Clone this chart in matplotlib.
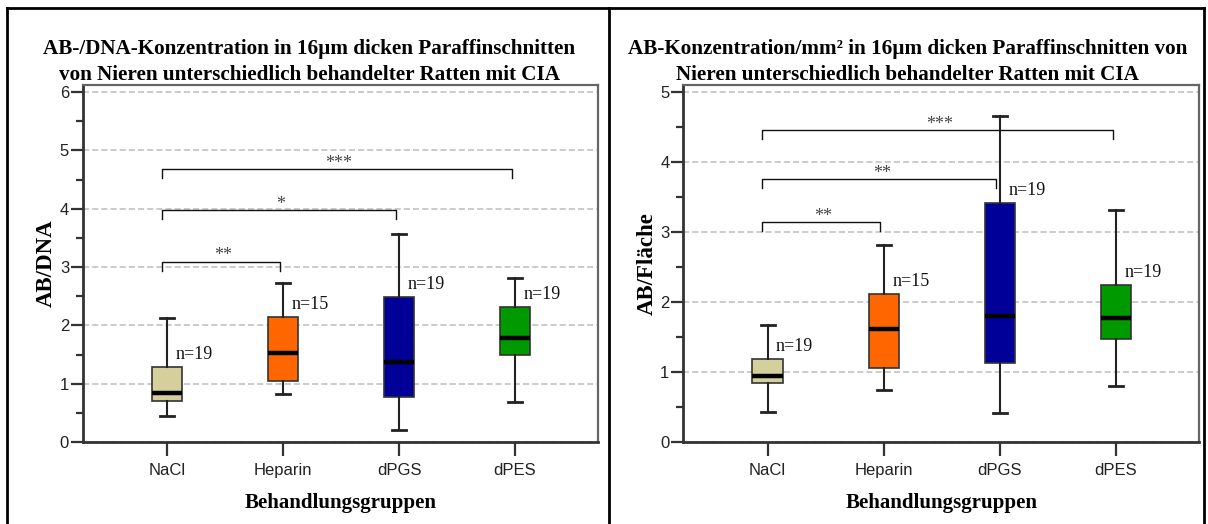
import matplotlib
matplotlib.use("Agg")
import matplotlib.pyplot as plt
from matplotlib.lines import Line2D
from matplotlib.ticker import MultipleLocator

# Behandlungsgruppen
groups = ["NaCl", "Heparin", "dPGS", "dPES"]
n_vals = [19, 15, 19, 19]
colors = ["#d4cf9b", "#ff6600", "#000099", "#009900"]

# linkes Diagramm: AB/DNA  (whislo, q1, med, q3, whishi)
dna_lo = [0.44, 0.82, 0.21, 0.68]
dna_q1 = [0.70, 1.05, 0.77, 1.50]
dna_med = [0.84, 1.53, 1.38, 1.78]
dna_q3 = [1.29, 2.14, 2.49, 2.31]
dna_hi = [2.12, 2.72, 3.56, 2.81]
dna_sig = [(0, 1, 3.09, "**"), (0, 2, 3.98, "*"), (0, 3, 4.68, "***")]

# rechtes Diagramm: AB/Fläche
fl_lo = [0.43, 0.74, 0.41, 0.80]
fl_q1 = [0.85, 1.06, 1.13, 1.47]
fl_med = [0.94, 1.62, 1.80, 1.77]
fl_q3 = [1.18, 2.11, 3.41, 2.25]
fl_hi = [1.67, 2.82, 4.66, 3.31]
fl_sig = [(0, 1, 3.14, "**"), (0, 2, 3.76, "**"), (0, 3, 4.46, "***")]

SERIF = "Liberation Serif"
SANS = "Liberation Sans"

fig = plt.figure(figsize=(12.08, 5.24), dpi=100)


def panel(rect, lo, q1, med, q3, hi, sig, ymax, ylabel):
    ax = fig.add_axes(rect)
    stats = []
    for k in range(len(groups)):
        stats.append(dict(whislo=lo[k], q1=q1[k], med=med[k], q3=q3[k],
                          whishi=hi[k], fliers=[], label=groups[k]))
    pos = list(range(len(groups)))
    bp = ax.bxp(stats, positions=pos, widths=0.26, showfliers=False,
                patch_artist=True, capwidths=0.12,
                boxprops=dict(edgecolor="#333333", linewidth=1.2),
                medianprops=dict(color="black", linewidth=3.2, solid_capstyle="butt"),
                whiskerprops=dict(color="#222222", linewidth=1.5),
                capprops=dict(color="#222222", linewidth=2.0))
    for patch, c in zip(bp["boxes"], colors):
        patch.set_facecolor(c)
        patch.set_zorder(3)
    for key in ["medians", "whiskers", "caps"]:
        for l in bp[key]:
            l.set_zorder(4)

    ax.set_xlim(-0.725, 3.715)
    ax.set_ylim(0, ymax * 1.02)
    ax.yaxis.set_major_locator(MultipleLocator(1))
    ax.yaxis.set_minor_locator(MultipleLocator(0.5))
    ax.grid(axis="y", which="major", color="#bdbdbd", linestyle=(0, (4, 2)),
            linewidth=1.1, zorder=0)
    ax.set_axisbelow(True)

    ax.tick_params(axis="y", which="major", length=9, width=1.6, pad=1,
                   labelsize=12, color="#333333")
    ax.tick_params(axis="y", which="minor", length=5, width=1.6, color="#333333")
    ax.tick_params(axis="x", length=10, width=1.6, pad=5, labelsize=12,
                   color="#333333")
    for lab in ax.get_xticklabels() + ax.get_yticklabels():
        lab.set_family(SANS)
        lab.set_color("#222222")

    for s in ["left", "bottom"]:
        ax.spines[s].set_color("#333333")
        ax.spines[s].set_linewidth(2.0)
    for s in ["top", "right"]:
        ax.spines[s].set_color("#666666")
        ax.spines[s].set_linewidth(1.6)

    # n= Beschriftung
    for k in range(len(groups)):
        ax.annotate("n=%d" % n_vals[k], xy=(pos[k], q3[k]), xytext=(8.5, 12.5),
                    textcoords="offset pixels", ha="left", va="center",
                    fontsize=13, family=SERIF, color="#111111", zorder=5)

    # Signifikanzklammern
    leg = 0.025 * ymax
    for i, j, y, txt in sig:
        x0 = i - 0.045
        x1 = j - 0.03
        ax.plot([x0, x0, x1, x1], [y - leg, y, y, y - leg], color="#111111",
                linewidth=1.0, zorder=2)
        ax.text((x0 + x1) / 2 + 0.02, y + 0.004 * ymax, txt, ha="center",
                va="baseline", fontsize=13, family=SERIF, color="#444444")

    ax.set_ylabel(ylabel, fontsize=16.5, family=SERIF, fontweight="bold")
    ax.yaxis.set_label_coords(-0.05, 0.5)
    ax.set_xlabel("Behandlungsgruppen", fontsize=15, family=SERIF,
                  fontweight="bold")
    ax.xaxis.set_label_coords(0.5, -0.17)
    ax.xaxis.label.set_va("center")
    return ax


panel([0.0687, 0.1565, 0.4263, 0.681], dna_lo, dna_q1, dna_med, dna_q3, dna_hi,
      dna_sig, 6, "AB/DNA")
panel([0.5657, 0.1565, 0.4269, 0.681], fl_lo, fl_q1, fl_med, fl_q3, fl_hi,
      fl_sig, 5, "AB/Fläche")

fig.text(0.2558, 0.882,
         "AB-/DNA-Konzentration in 16µm dicken Paraffinschnitten\n"
         "von Nieren unterschiedlich behandelter Ratten mit CIA",
         ha="center", va="center", fontsize=15.2, family=SERIF,
         fontweight="bold", linespacing=1.36)
fig.text(0.751, 0.882,
         "AB-Konzentration/mm² in 16µm dicken Paraffinschnitten von\n"
         "Nieren unterschiedlich behandelter Ratten mit CIA",
         ha="center", va="center", fontsize=15.2, family=SERIF,
         fontweight="bold", linespacing=1.36)

# Rahmen um die beiden Bilder
top = 1 - 8 / 524
for xs, ys in [([7 / 1208, 1 - 4 / 1208], [top, top]),
               ([7 / 1208, 7 / 1208], [0, top]),
               ([609 / 1208, 609 / 1208], [0, top]),
               ([1 - 4 / 1208, 1 - 4 / 1208], [0, top])]:
    fig.add_artist(Line2D(xs, ys, transform=fig.transFigure, color="black",
                          linewidth=2.0))

fig.savefig("out.png", dpi=100)
